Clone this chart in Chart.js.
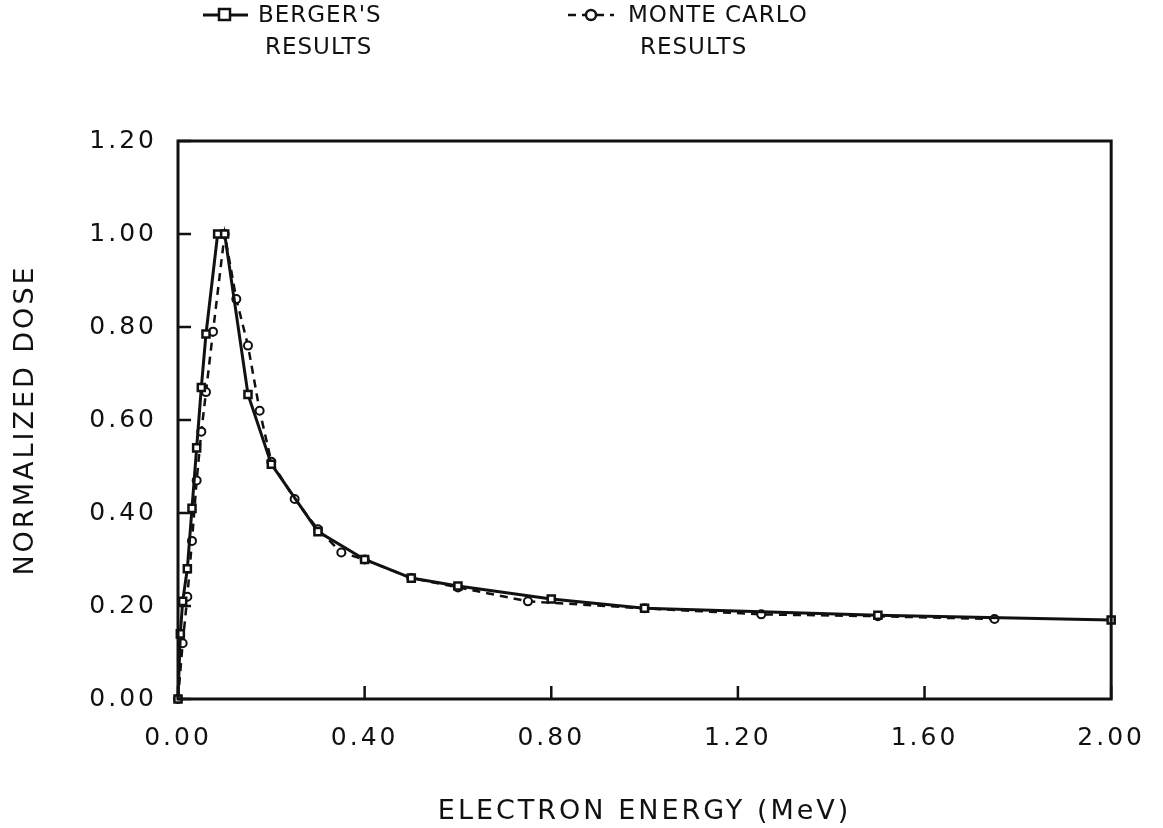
<!DOCTYPE html>
<html>
<head>
<meta charset="utf-8">
<title>Normalized dose vs electron energy</title>
<script src="https://cdn.jsdelivr.net/npm/chart.js@4.4.1/dist/chart.umd.min.js"></script>
<style>
  html, body { margin: 0; padding: 0; background: #fff; }
  #wrap { width: 1163px; height: 828px; }
</style>
</head>
<body>
<div id="wrap"><canvas id="doseChart" width="1163" height="828"></canvas></div>
<script>
// Berger's tabulated values (solid line, squares)
const bergerEnergy = [0, 0.005, 0.01, 0.02, 0.03, 0.04, 0.05, 0.06, 0.085, 0.10, 0.15, 0.20, 0.30, 0.40, 0.50, 0.60, 0.80, 1.00, 1.50, 2.00];
const bergerDose   = [0, 0.14, 0.21, 0.28, 0.41, 0.54, 0.67, 0.785, 1.00, 1.00, 0.655, 0.505, 0.36, 0.30, 0.26, 0.243, 0.215, 0.195, 0.18, 0.17];

// Monte Carlo run (dashed line, circles)
const mcEnergy = [0, 0.01, 0.02, 0.03, 0.04, 0.05, 0.06, 0.075, 0.10, 0.125, 0.15, 0.175, 0.20, 0.25, 0.30, 0.35, 0.40, 0.50, 0.60, 0.75, 1.00, 1.25, 1.50, 1.75];
const mcDose   = [0, 0.12, 0.22, 0.34, 0.47, 0.575, 0.66, 0.79, 1.00, 0.86, 0.76, 0.62, 0.51, 0.43, 0.365, 0.315, 0.30, 0.26, 0.24, 0.21, 0.195, 0.182, 0.178, 0.172];

const energyTicks = [0, 0.4, 0.8, 1.2, 1.6, 2.0];
const doseTicks = [0, 0.2, 0.4, 0.6, 0.8, 1.0, 1.2];

const ink = "#111";
const FONT = "'DejaVu Sans', 'Liberation Sans', sans-serif";

function toPoints(xs, ys) {
    return xs.map((x, i) => ({ x: x, y: ys[i] }));
}

// box frame, inward tick marks and the legend above the plot
const plotDecor = {
    id: "plotDecor",
    beforeDraw(chart) {
        chart.ctx.letterSpacing = "3px";
    },
    afterDraw(chart) {
        const ctx = chart.ctx;
        const a = chart.chartArea;
        const xs = chart.scales.x;
        const ys = chart.scales.y;
        ctx.save();
        ctx.strokeStyle = ink;
        ctx.lineWidth = 3;
        ctx.strokeRect(a.left, a.top, a.right - a.left, a.bottom - a.top);

        ctx.lineWidth = 2.5;
        ctx.beginPath();
        doseTicks.forEach((v) => {
            const py = ys.getPixelForValue(v);
            ctx.moveTo(a.left, py);
            ctx.lineTo(a.left + 13, py);
        });
        energyTicks.forEach((v) => {
            const px = xs.getPixelForValue(v);
            ctx.moveTo(px, a.bottom);
            ctx.lineTo(px, a.bottom - 13);
        });
        ctx.stroke();

        // legend
        ctx.font = "23px " + FONT;
        ctx.letterSpacing = "1px";
        ctx.fillStyle = ink;
        ctx.textBaseline = "middle";

        ctx.lineWidth = 3;
        ctx.setLineDash([]);
        ctx.beginPath();
        ctx.moveTo(203, 15);
        ctx.lineTo(248, 15);
        ctx.stroke();
        ctx.fillStyle = "#fff";
        ctx.fillRect(219, 9, 11, 11);
        ctx.lineWidth = 2.5;
        ctx.strokeRect(219, 9, 11, 11);
        ctx.fillStyle = ink;
        ctx.fillText("BERGER'S", 258, 16);
        ctx.fillText("RESULTS", 265, 48);

        ctx.lineWidth = 2.5;
        ctx.setLineDash([8, 6]);
        ctx.beginPath();
        ctx.moveTo(568, 15);
        ctx.lineTo(614, 15);
        ctx.stroke();
        ctx.setLineDash([]);
        ctx.beginPath();
        ctx.arc(591, 15, 5, 0, Math.PI * 2);
        ctx.fillStyle = "#fff";
        ctx.fill();
        ctx.stroke();
        ctx.fillStyle = ink;
        ctx.fillText("MONTE CARLO", 628, 16);
        ctx.fillText("RESULTS", 640, 48);
        ctx.restore();
    },
};

new Chart(document.getElementById("doseChart"), {
    type: "scatter",
    data: {
        datasets: [
            {
                label: "BERGER'S RESULTS",
                data: toPoints(bergerEnergy, bergerDose),
                showLine: true,
                borderColor: ink,
                borderWidth: 3,
                pointStyle: "rect",
                pointRadius: 5,
                pointBackgroundColor: "#fff",
                pointBorderColor: ink,
                pointBorderWidth: 2.5,
                clip: false,
            },
            {
                label: "MONTE CARLO RESULTS",
                data: toPoints(mcEnergy, mcDose),
                showLine: true,
                borderColor: ink,
                borderWidth: 2.5,
                borderDash: [8, 6],
                pointStyle: "circle",
                pointRadius: 4,
                pointBackgroundColor: "#fff",
                pointBorderColor: ink,
                pointBorderWidth: 2,
                clip: false,
            },
        ],
    },
    options: {
        responsive: false,
        animation: false,
        devicePixelRatio: 1,
        layout: {
            padding: { top: 141, right: 38, left: 8, bottom: 0 },
        },
        scales: {
            x: {
                type: "linear",
                min: 0,
                max: 2,
                afterBuildTicks: (scale) => {
                    scale.ticks = energyTicks.map((v) => ({ value: v }));
                },
                afterFit: (scale) => {
                    scale.height = 129;
                },
                grid: { display: false, drawTicks: false },
                border: { display: false },
                ticks: {
                    color: ink,
                    padding: 24,
                    maxRotation: 0,
                    font: { family: FONT, size: 25 },
                    callback: (v) => Number(v).toFixed(2),
                },
                title: {
                    display: true,
                    text: "ELECTRON ENERGY (MeV)",
                    color: ink,
                    font: { family: FONT, size: 27 },
                    padding: { top: 0, bottom: 0 },
                },
            },
            y: {
                type: "linear",
                min: 0,
                max: 1.2,
                afterBuildTicks: (scale) => {
                    scale.ticks = doseTicks.map((v) => ({ value: v }));
                },
                afterFit: (scale) => {
                    scale.width = 170;
                },
                grid: { display: false, drawTicks: false },
                border: { display: false },
                ticks: {
                    color: ink,
                    padding: 21,
                    font: { family: FONT, size: 25 },
                    callback: (v) => Number(v).toFixed(2),
                },
                title: {
                    display: true,
                    text: "NORMALIZED DOSE",
                    color: ink,
                    font: { family: FONT, size: 27 },
                    padding: { top: 2, bottom: 0 },
                },
            },
        },
        plugins: {
            legend: { display: false },
            tooltip: { enabled: false },
        },
    },
    plugins: [plotDecor],
});
</script>
</body>
</html>
